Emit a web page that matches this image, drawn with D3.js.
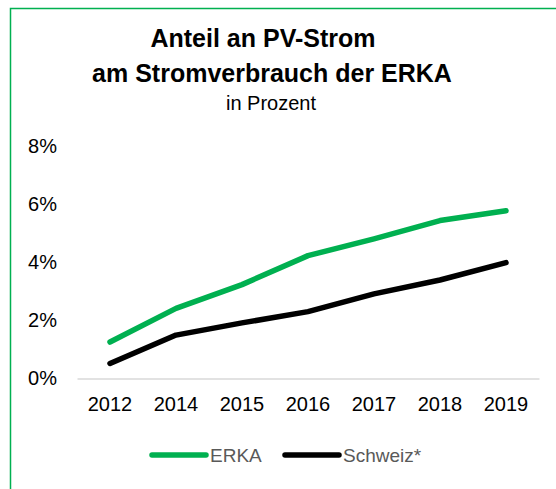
<!DOCTYPE html>
<html>
<head>
<meta charset="utf-8">
<script src="https://cdn.jsdelivr.net/npm/d3@7"></script>
<style>
  body { margin: 0; background: #fff; }
  text { font-family: "Liberation Sans", Arial, sans-serif; }
</style>
</head>
<body>
<script>
// data
var years = ["2012", "2014", "2015", "2016", "2017", "2018", "2019"];
var erka = [1.24, 2.40, 3.22, 4.22, 4.80, 5.43, 5.77];
var schweiz = [0.50, 1.48, 1.90, 2.29, 2.90, 3.38, 3.98];
var yTicks = [0, 2, 4, 6, 8];
var seriesNames = ["ERKA", "Schweiz*"];
var seriesColors = ["#00b050", "#000000"];

var w = 556, h = 489;

var svg = d3.select("body").append("svg")
    .attr("width", w)
    .attr("height", h);

// green frame (top and left edges visible)
svg.append("path")
    .attr("d", "M10.5,489 L10.5,8.5 L556,8.5")
    .attr("fill", "none")
    .attr("stroke", "#00b050")
    .attr("stroke-width", 1.5);

// titles
svg.append("text").attr("x", 263).attr("y", 47)
    .attr("text-anchor", "middle").attr("font-size", 25).attr("font-weight", "bold")
    .text("Anteil an PV-Strom");
svg.append("text").attr("x", 272).attr("y", 82)
    .attr("text-anchor", "middle").attr("font-size", 25).attr("font-weight", "bold")
    .text("am Stromverbrauch der ERKA");
svg.append("text").attr("x", 271).attr("y", 110)
    .attr("text-anchor", "middle").attr("font-size", 20)
    .text("in Prozent");

var x = d3.scaleBand().domain(years).range([77, 539]);
var y = d3.scaleLinear().domain([0, 8]).range([378, 146]);

// y axis labels
var yAxis = svg.append("g")
    .attr("transform", "translate(57,0)")
    .call(d3.axisLeft(y).tickValues(yTicks).tickSize(0).tickPadding(0)
        .tickFormat(function(d) { return d + "%"; }));
yAxis.select(".domain").remove();
yAxis.selectAll("text").attr("font-size", 20).attr("fill", "#000")
    .attr("font-family", "Liberation Sans, Arial, sans-serif");

// x axis
var xAxis = svg.append("g")
    .attr("transform", "translate(0,378.5)")
    .call(d3.axisBottom(x).tickSize(0).tickPadding(18));
xAxis.select(".domain").attr("stroke", "#d9d9d9").attr("stroke-width", 1.5);
xAxis.selectAll("text").attr("font-size", 20).attr("fill", "#000")
    .attr("font-family", "Liberation Sans, Arial, sans-serif");

var line = d3.line()
    .x(function(d, i) { return x(years[i]) + x.bandwidth() / 2; })
    .y(function(d) { return y(d); });

[erka, schweiz].forEach(function(s, k) {
    svg.append("path")
        .datum(s)
        .attr("d", line)
        .attr("fill", "none")
        .attr("stroke", seriesColors[k])
        .attr("stroke-width", 5.5)
        .attr("stroke-linecap", "round")
        .attr("stroke-linejoin", "round");
});

// legend
var legendX = [152, 285];
seriesNames.forEach(function(name, k) {
    var g = svg.append("g").attr("transform", "translate(" + legendX[k] + ",455)");
    g.append("line")
        .attr("x1", 0).attr("x2", 54)
        .attr("stroke", seriesColors[k])
        .attr("stroke-width", 5.5)
        .attr("stroke-linecap", "round");
    g.append("text")
        .attr("x", 58).attr("y", 7)
        .attr("font-size", 19)
        .attr("fill", "#595959")
        .text(name);
});
</script>
</body>
</html>
